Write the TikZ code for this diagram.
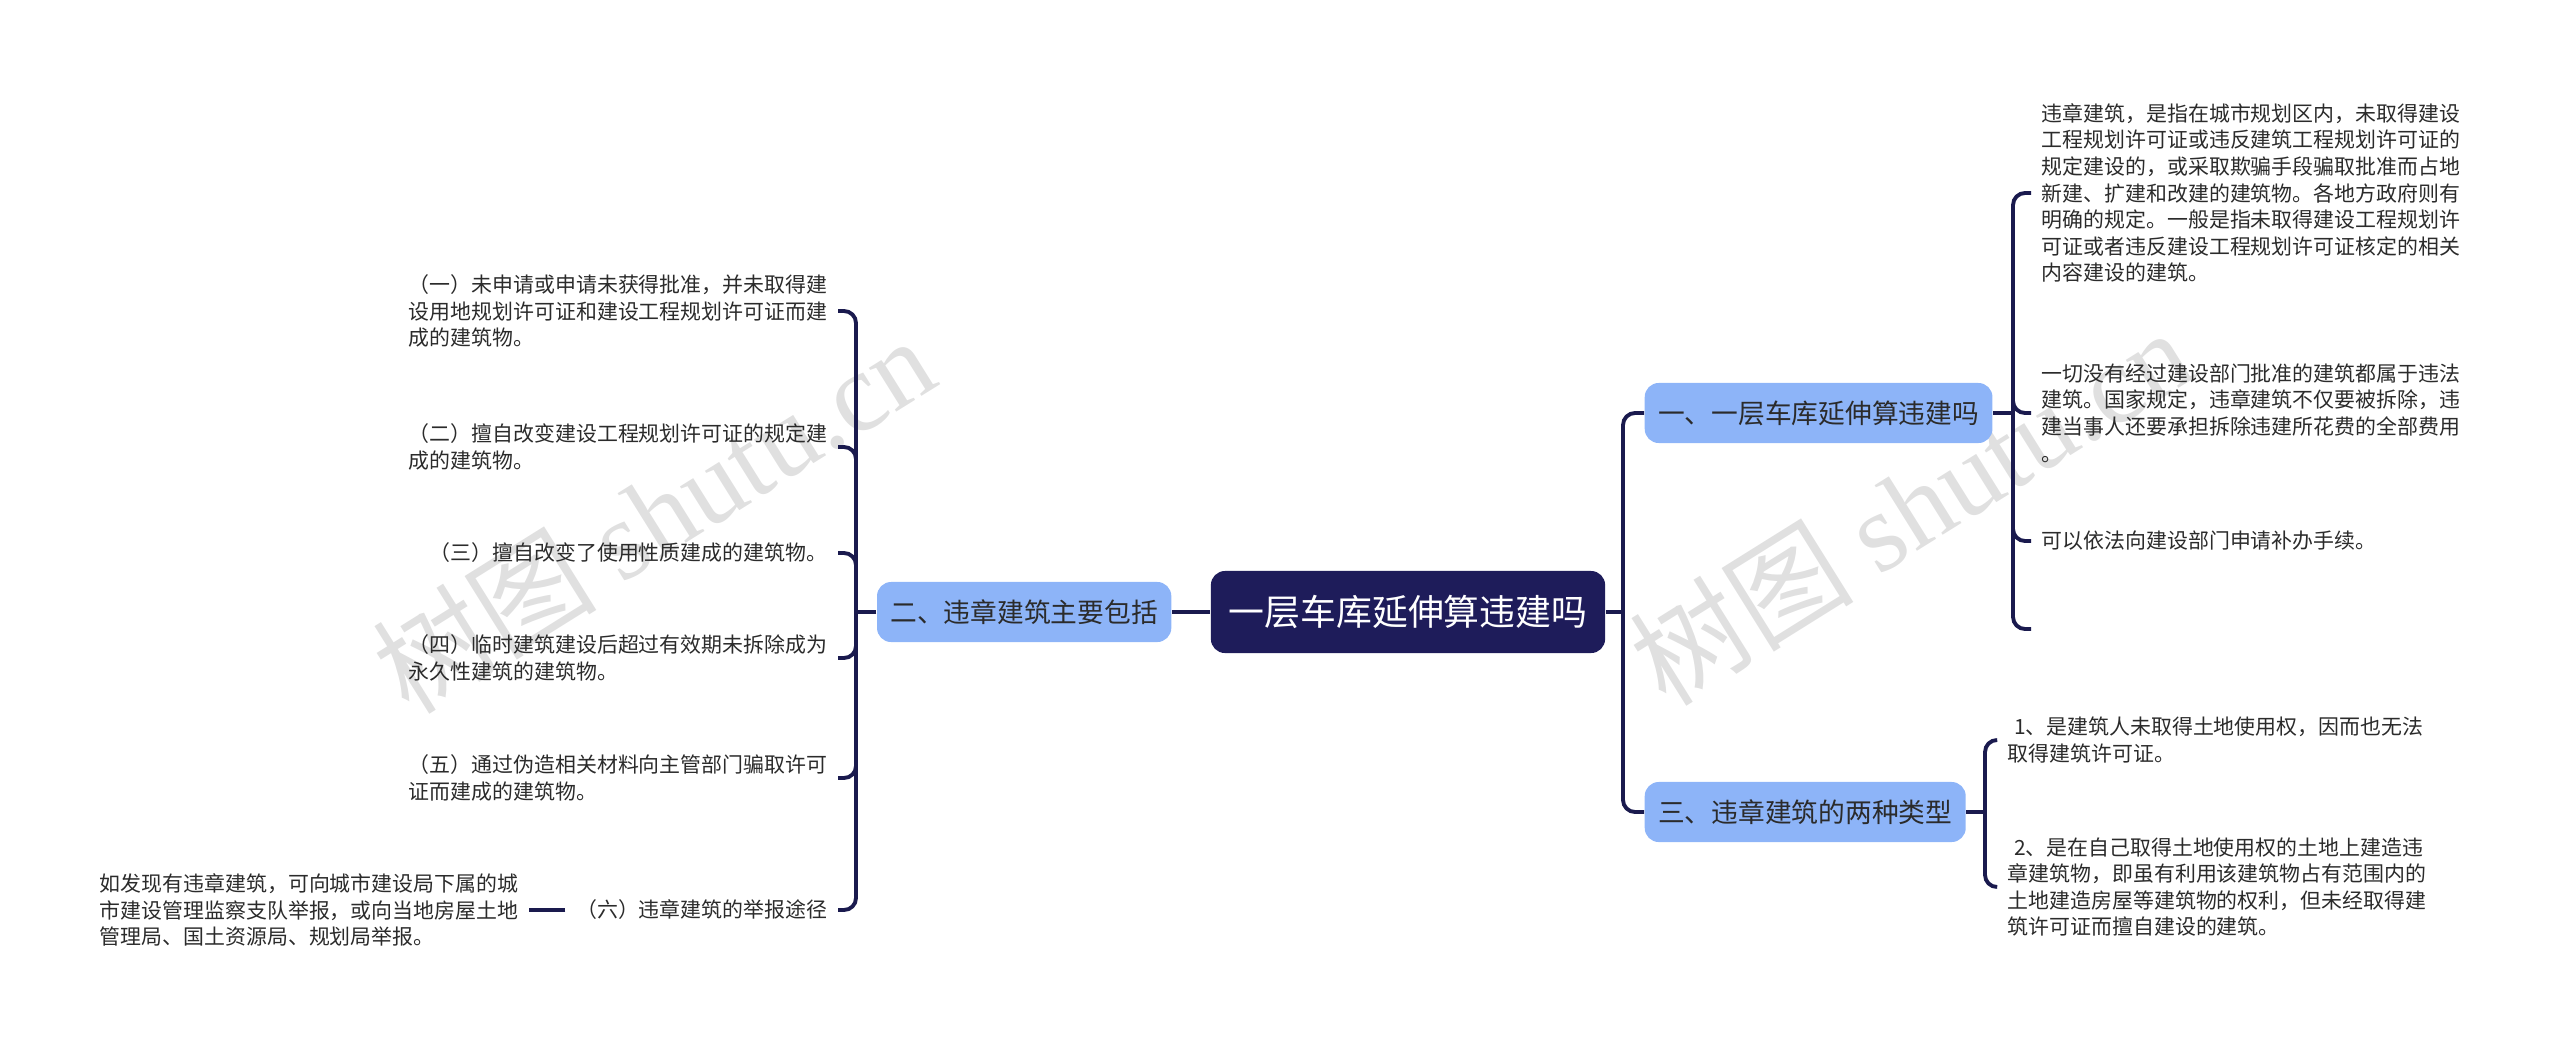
\documentclass[tikz,border=0pt]{standalone}
\usepackage{fontspec}
\setmainfont{Noto Sans CJK SC}
\newfontfamily\wmlatin{Liberation Serif}
\definecolor{rootnavy}{HTML}{1E1C5A}
\definecolor{linknavy}{HTML}{1A1A4E}
\definecolor{topicblue}{HTML}{8DB4F8}
\definecolor{textdark}{HTML}{2B2B2B}
\usetikzlibrary{positioning}

\begin{document}
\begin{tikzpicture}[
  x=0.01cm, y=-0.01cm,
  rootbox/.style={rectangle, fill=rootnavy, text=white, minimum width=3.94cm,
    minimum height=0.82cm, inner sep=0pt, rounded corners=4pt,
    font=\fontsize{10.2pt}{12pt}\selectfont},
  topicbox/.style={rectangle, fill=topicblue, text=textdark, minimum height=0.6cm,
    inner xsep=0.135cm, inner ysep=0pt, rounded corners=4pt,
    font=\fontsize{7.6pt}{9pt}\selectfont},
  leaf/.style={align=left, inner xsep=0.1cm, inner ysep=0pt, text=textdark,
    font=\fontsize{5.95pt}{7.55pt}\selectfont},
  link/.style={draw=linknavy, line width=1.1pt, rounded corners=0.12cm},
  wmark/.style={text=gray!24, rotate=32, inner sep=0pt,
    font=\fontsize{32pt}{34pt}\selectfont}
]
  \useasboundingbox (0,0) rectangle (2560,1051);

  % watermark
  \node[wmark] (wm1) at (653,514) {树图 {\wmlatin shutu.cn}};
  \node[wmark] (wm2) at (1910,506) {树图 {\wmlatin shutu.cn}};

  % centre and topics
  \node[rootbox] (root) at (1408,612) {一层车库延伸算违建吗};
  \node[topicbox, anchor=east] (t2) at (1172,612) {二、违章建筑主要包括};
  \node[topicbox, anchor=west] (t1) at (1644,413) {一、一层车库延伸算违建吗};
  \node[topicbox, anchor=west] (t3) at (1644,812) {三、违章建筑的两种类型};

  % left leaves
  \node[leaf, anchor=east] (la) at (838,311) {（一）未申请或申请未获得批准，并未取得建\\设用地规划许可证和建设工程规划许可证而建\\成的建筑物。};
  \node[leaf, anchor=east] (lb) at (838,447) {（二）擅自改变建设工程规划许可证的规定建\\成的建筑物。};
  \node[leaf, anchor=east] (lc) at (838,553) {（三）擅自改变了使用性质建成的建筑物。};
  \node[leaf, anchor=east] (ld) at (838,658) {（四）临时建筑建设后超过有效期未拆除成为\\永久性建筑的建筑物。};
  \node[leaf, anchor=east] (le) at (838,778) {（五）通过伪造相关材料向主管部门骗取许可\\证而建成的建筑物。};
  \node[leaf, anchor=east] (lf) at (838,910) {（六）违章建筑的举报途径};
  \node[leaf, anchor=east] (lg) at (529,910) {如发现有违章建筑，可向城市建设局下属的城\\市建设管理监察支队举报，或向当地房屋土地\\管理局、国土资源局、规划局举报。};

  % right leaves
  \node[leaf, anchor=west] (ra) at (2031,193) {违章建筑，是指在城市规划区内，未取得建设\\工程规划许可证或违反建筑工程规划许可证的\\规定建设的，或采取欺骗手段骗取批准而占地\\新建、扩建和改建的建筑物。各地方政府则有\\明确的规定。一般是指未取得建设工程规划许\\可证或者违反建设工程规划许可证核定的相关\\内容建设的建筑。};
  \node[leaf, anchor=west] (rb) at (2031,413) {一切没有经过建设部门批准的建筑都属于违法\\建筑。国家规定，违章建筑不仅要被拆除，违\\建当事人还要承担拆除违建所花费的全部费用\\。};
  \node[leaf, anchor=west] (rc) at (2031,541) {可以依法向建设部门申请补办手续。};
  \coordinate (rd) at (2031,629);
  \node[leaf, anchor=west] (sa) at (1997,740) {\hspace*{0.3em}1、是建筑人未取得土地使用权，因而也无法\\取得建筑许可证。};
  \node[leaf, anchor=west] (sb) at (1997,887) {\hspace*{0.3em}2、是在自己取得土地使用权的土地上建造违\\章建筑物，即虽有利用该建筑物占有范围内的\\土地建造房屋等建筑物的权利，但未经取得建\\筑许可证而擅自建设的建筑。};

  % connectors
  \coordinate (rj) at (1623,612);
  \coordinate (lj) at (856,612);
  \coordinate (j1) at (2013,413);
  \coordinate (j3) at (1985,812);
  \draw[link] (root.east) -- (rj);
  \draw[link] (rj) |- (t1.west);
  \draw[link] (rj) |- (t3.west);
  \draw[link] (root.west) -- (t2.east);
  \draw[link] (t2.west) -- (lj);
  \foreach \n in {la,lb,lc,ld,le,lf}
    \draw[link] (lj) |- (\n.east);
  \draw[link] (lf.west) -- (lg.east);
  \draw[link] (t1.east) -- (j1);
  \foreach \n in {ra,rb,rc,rd}
    \draw[link] (j1) |- (\n);
  \draw[link] (t3.east) -- (j3);
  \foreach \n in {sa,sb}
    \draw[link] (j3) |- (\n.west);
\end{tikzpicture}
\end{document}
